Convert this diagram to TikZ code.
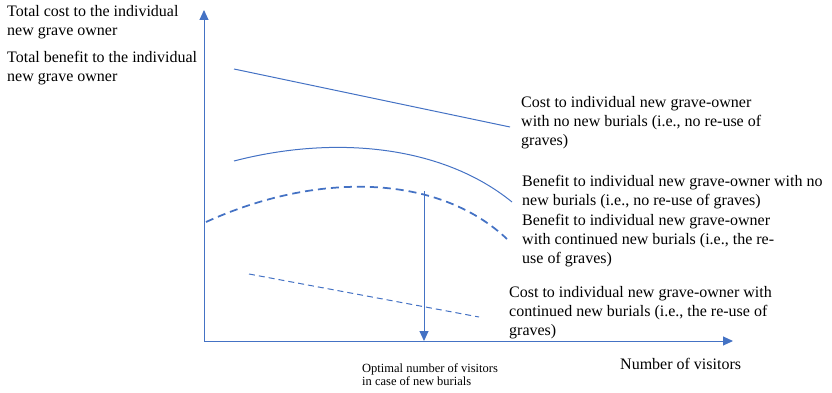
\documentclass[tikz,border=0pt]{standalone}
\usepackage{fontspec}
\setmainfont{Liberation Serif}
\usetikzlibrary{arrows.meta}
\definecolor{chartblue}{RGB}{68,114,196}
\tikzset{
  lbl/.style={anchor=base west,inner sep=0pt,align=left,font=\fontsize{16}{19}\selectfont},
  smalllbl/.style={anchor=base west,inner sep=0pt,align=left,font=\fontsize{12.5}{13.5}\selectfont},
  axisarrow/.style={color=chartblue,line width=1pt,-{Triangle[width=9pt,length=10pt]}},
}
\begin{document}
\begin{tikzpicture}[x=1pt,y=1pt,yscale=-1,xscale=1]
\useasboundingbox (0,0) rectangle (832,393);

%Axes
\coordinate (origin) at (204,341);
\coordinate (ytip) at (204,10);
\coordinate (xtip) at (733,341);
\draw [axisarrow] (origin) -- (ytip);
\draw [axisarrow] (origin) -- (xtip);

%Straight Lines: cost, no new burials
\draw [color=chartblue,line width=1pt] (234,69) -- (510,127);
%Straight Lines: cost, continued new burials
\draw [color=chartblue,line width=1pt,dash pattern=on 6pt off 4pt] (249,274) -- (479,317);

%Curve: benefit, no new burials
\draw [color=chartblue,line width=1pt] (234,161) .. controls (334,135) and (442,145) .. (512,202);
%Curve: benefit, continued new burials
\draw [color=chartblue,line width=1.75pt,dash pattern=on 8pt off 5pt] (206,222) .. controls (316,172) and (437,173) .. (507,239);

%Optimum
\coordinate (optimum) at (424,191);
\coordinate (optfoot) at (424,341);
\draw [axisarrow] (optimum) -- (optfoot);

% Text Node (anchored at the baseline of the last line)
\node (totalcost) [lbl] at (7,36) {Total cost to the individual\\new grave owner};
% Text Node
\node (totalbenefit) [lbl] at (7,82) {Total benefit to the individual\\new grave owner};
% Text Node
\node (costnone) [lbl] at (521,146) {Cost to individual new grave-owner\\with no new burials (i.e., no re-use of\\graves)};
% Text Node
\node (benefitnone) [lbl] at (522,205) {Benefit to individual new grave-owner with no\\new burials (i.e., no re-use of graves)};
% Text Node
\node (benefitreuse) [lbl] at (522,263) {Benefit to individual new grave-owner\\with continued new burials (i.e., the re-\\use of graves)};
% Text Node
\node (costreuse) [lbl] at (509,335) {Cost to individual new grave-owner with\\continued new burials (i.e., the re-use of\\graves)};
% Text Node
\node (visitors) [lbl] at (620,369) {Number of visitors};
% Text Node
\node (optlabel) [smalllbl] at (362,385.5) {Optimal number of visitors\\in case of new burials};

\end{tikzpicture}
\end{document}
